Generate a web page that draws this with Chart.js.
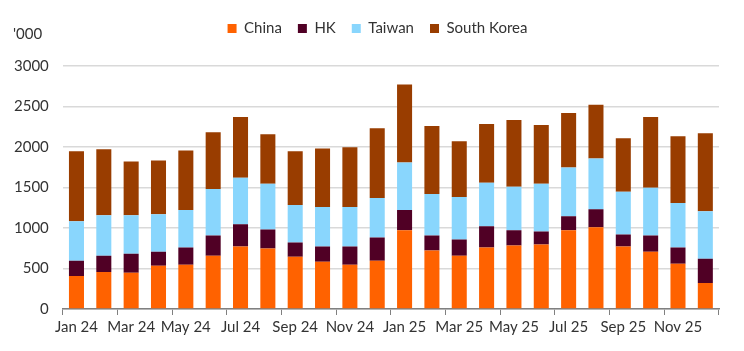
<!DOCTYPE html>
<html>
<head>
<meta charset="utf-8">
<script src="https://cdn.jsdelivr.net/npm/chart.js@4"></script>
<style>
  html, body { margin:0; padding:0; background:#fff; }
  #wrap { position:relative; width:744px; height:351px; }
</style>
</head>
<body>
<div id="wrap"><canvas id="barChart" width="744" height="351"></canvas></div>
<script>
var months = ["Jan 24","Feb 24","Mar 24","Apr 24","May 24","Jun 24","Jul 24","Aug 24","Sep 24","Oct 24","Nov 24","Dec 24",
              "Jan 25","Feb 25","Mar 25","Apr 25","May 25","Jun 25","Jul 25","Aug 25","Sep 25","Oct 25","Nov 25","Dec 25"];
var china  = [408,458,446,533,546,658,771,746,646,583,546,596, 971,721,658,758,783,796,971,1008,771,708,558,321];
var hk     = [188,200,237,175,212,250,275,237,175,188,225,287, 250,187,200,263,188,162,175,225,150,200,200,300];
var taiwan = [487,500,475,463,463,575,575,563,462,487,487,488, 587,513,525,537,537,588,600,625,525,588,550,587];
var korea  = [863,813,663,662,737,700,750,612,663,725,738,862, 963,837,688,725,825,725,675,663,662,875,825,963];
var yTicks = [0,500,1000,1500,2000,2500,3000];

var FONT = "Lato, sans-serif";

var unitLabel = {
	id:'unitLabel',
	afterDraw:function(chart){
		var c = chart.ctx;
		c.save();
		c.font = "15px " + FONT;
		c.fillStyle = "#333333";
		c.textBaseline = "middle";
		c.fillText("'000", 13, 34);
		c.restore();
	}
};

// push the plot area down below the legend, and nudge the legend right
var legendGap = {
	id:'legendGap',
	beforeInit:function(chart){
		var fit = chart.legend.fit;
		chart.legend.fit = function(){
			fit.bind(chart.legend)();
			this.height += 20;
		};
	},
	afterLayout:function(chart){
		chart.legend.left += 18;
		chart.legend.right += 18;
	}
};

var ctx = document.getElementById("barChart");
var myChart = new Chart(ctx, {
	type:'bar',
	data:{
		labels:months,
		datasets:[
			{label:"China", data:china, backgroundColor:"#FF6200"},
			{label:"HK", data:hk, backgroundColor:"#500025"},
			{label:"Taiwan", data:taiwan, backgroundColor:"#89D6FD"},
			{label:"South Korea", data:korea, backgroundColor:"#993D00"}
		]
	},
	options:{
		responsive:false,
		animation:false,
		layout:{padding:{left:0, right:25, top:5, bottom:12}},
		datasets:{bar:{barPercentage:0.55, categoryPercentage:1}},
		plugins:{
			legend:{
				position:'top',
				labels:{
					boxWidth:9, boxHeight:9, padding:16,
					color:"#333333",
					font:{family:FONT, size:15}
				}
			},
			tooltip:{enabled:false}
		},
		scales:{
			x:{
				stacked:true,
				grid:{
					offset:true,
					drawOnChartArea:false,
					tickLength:6,
					tickColor:function(c){ return c.index % 2 ? 'rgba(0,0,0,0)' : '#808080'; }
				},
				border:{color:"#808080", width:1.5},
				ticks:{
					autoSkip:false,
					maxRotation:0,
					padding:3,
					color:"#333333",
					font:{family:FONT, size:15},
					callback:function(v, i){ return i % 2 ? '' : months[i]; }
				}
			},
			y:{
				stacked:true,
				min:0, max:3000,
				afterBuildTicks:function(axis){ axis.ticks = yTicks.map(function(v){ return {value:v}; }); },
				grid:{color:"#d9d9d9", lineWidth:1.5, drawTicks:false},
				border:{display:false},
				ticks:{
					padding:14,
					color:"#333333",
					font:{family:FONT, size:15},
					callback:function(v){ return String(v); }
				}
			}
		}
	},
	plugins:[unitLabel, legendGap]
});
</script>
</body>
</html>
